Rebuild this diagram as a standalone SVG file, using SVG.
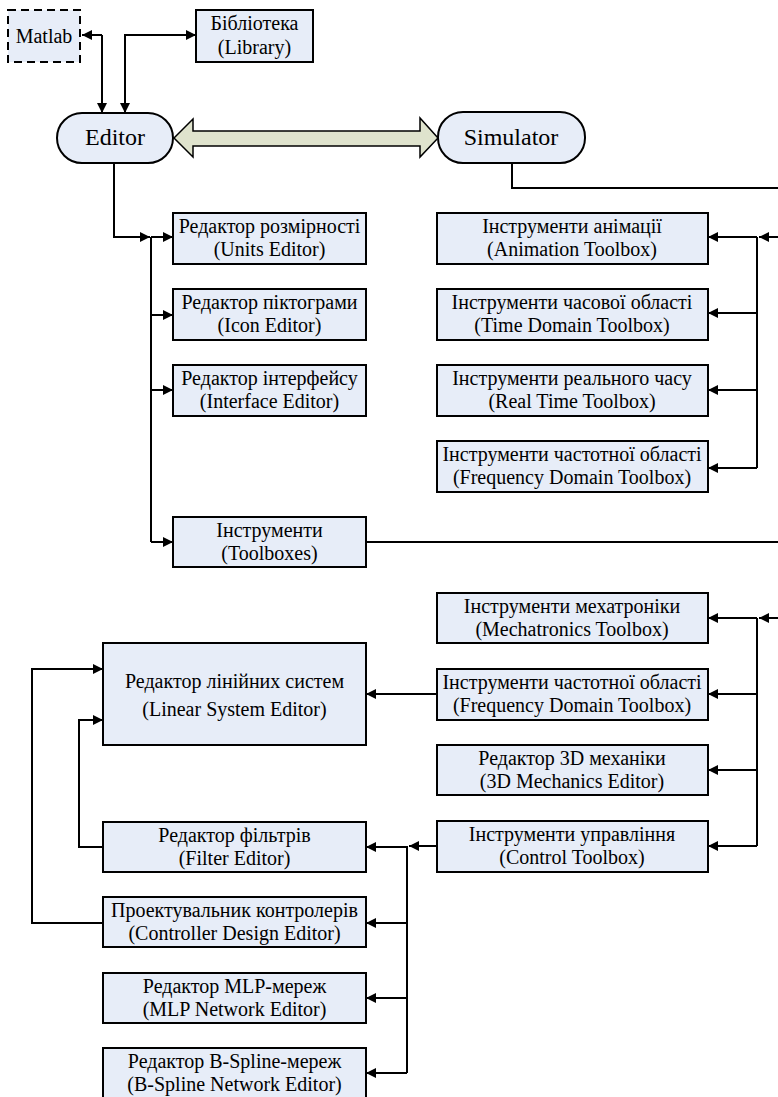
<svg xmlns="http://www.w3.org/2000/svg" width="778" height="1097" viewBox="0 0 778 1097">
<defs>
<marker id="ah" viewBox="0 0 10 10" refX="10" refY="5" markerWidth="10" markerHeight="10" markerUnits="userSpaceOnUse" orient="auto-start-reverse"><path d="M0,0 L10,5 L0,10 z" fill="#000"/></marker>
</defs>
<style>
.box{fill:#e7edf8;stroke:#000;stroke-width:2}
text{font-family:'Liberation Serif','DejaVu Serif',serif;font-size:20px;text-anchor:middle;fill:#000}
.big{font-size:24px}
.c{fill:none;stroke:#000;stroke-width:2}
.a{fill:none;stroke:#000;stroke-width:2;marker-end:url(#ah)}
</style>
<g id="connectors">
<path class="c" d="M102,35 H82" marker-end="url(#ah)"/>
<path class="a" d="M102,35 V113"/>
<path class="a" d="M125,113 V35 H196" marker-start="url(#ah)"/>
<polygon points="174,138 193,119 193,131 420,131 420,118 438,138 420,157 420,146 193,146 193,157" fill="#dfe3cd" stroke="#000" stroke-width="1.5"/>
<path class="c" d="M512,163 V188 H778"/>
<path class="a" d="M114,163 V237 H150"/>
<path class="c" d="M151,237 V542"/>
<path class="a" d="M151,237 H173"/>
<path class="a" d="M151,315 H173"/>
<path class="a" d="M151,390 H173"/>
<path class="a" d="M151,542 H173"/>
<path class="c" d="M366,542 H778"/>
<path class="a" d="M778,237 H759"/>
<path class="c" d="M757,237 V468"/>
<path class="a" d="M757,237 H708"/>
<path class="a" d="M757,313 H708"/>
<path class="a" d="M757,390 H708"/>
<path class="a" d="M757,468 H708"/>
<path class="a" d="M778,618 H759"/>
<path class="c" d="M757,618 V846"/>
<path class="a" d="M757,618 H708"/>
<path class="a" d="M757,694 H708"/>
<path class="a" d="M757,770 H708"/>
<path class="a" d="M757,846 H708"/>
<path class="a" d="M437,694 H366"/>
<path class="a" d="M437,846 H409"/>
<path class="c" d="M407,846 V1073"/>
<path class="a" d="M407,847 H366"/>
<path class="a" d="M407,923 H366"/>
<path class="a" d="M407,998 H366"/>
<path class="a" d="M407,1073 H366"/>
<path class="a" d="M103,847 H79 V720 H103"/>
<path class="a" d="M103,923 H32 V669 H103"/>
</g>
<g id="matlab"><rect x="8" y="10" width="72" height="52" fill="#e7edf8" stroke="#000" stroke-width="2" stroke-dasharray="8,5"/><text x="44" y="43">Matlab</text></g>
<g id="library"><rect class="box" x="196" y="10" width="117" height="52"/><text x="254.5" y="30">Бібліотека</text><text x="254.5" y="54">(Library)</text></g>
<g id="editor"><rect class="box" x="57" y="113" width="116" height="50" rx="25"/><text class="big" x="115" y="145">Editor</text></g>
<g id="simulator"><rect class="box" x="438" y="112" width="147" height="51" rx="25"/><text class="big" x="511" y="145">Simulator</text></g>
<g id="units"><rect class="box" x="173" y="213" width="193" height="51"/><text x="269.5" y="233">Редактор розмірності</text><text x="269.5" y="256">(Units Editor)</text></g>
<g id="icon"><rect class="box" x="173" y="289" width="193" height="51"/><text x="269.5" y="309">Редактор піктограми</text><text x="269.5" y="332">(Icon Editor)</text></g>
<g id="interface"><rect class="box" x="173" y="365" width="193" height="51"/><text x="269.5" y="385">Редактор інтерфейсу</text><text x="269.5" y="408">(Interface Editor)</text></g>
<g id="toolboxes"><rect class="box" x="173" y="517" width="193" height="50"/><text x="269.5" y="537">Інструменти</text><text x="269.5" y="560">(Toolboxes)</text></g>
<g id="animation"><rect class="box" x="437" y="213" width="271" height="51"/><text x="572" y="233">Інструменти анімації</text><text x="572" y="256">(Animation Toolbox)</text></g>
<g id="timedomain"><rect class="box" x="437" y="289" width="271" height="51"/><text x="572" y="309">Інструменти часової області</text><text x="572" y="332">(Time Domain Toolbox)</text></g>
<g id="realtime"><rect class="box" x="437" y="365" width="271" height="51"/><text x="572" y="385">Інструменти реального часу</text><text x="572" y="408">(Real Time Toolbox)</text></g>
<g id="frequency1"><rect class="box" x="437" y="441" width="271" height="51"/><text x="572" y="461">Інструменти частотної області</text><text x="572" y="484">(Frequency Domain Toolbox)</text></g>
<g id="mechatronics"><rect class="box" x="437" y="593" width="271" height="50"/><text x="572" y="613">Інструменти мехатроніки</text><text x="572" y="636">(Mechatronics Toolbox)</text></g>
<g id="frequency2"><rect class="box" x="437" y="669" width="271" height="51"/><text x="572" y="689">Інструменти частотної області</text><text x="572" y="712">(Frequency Domain Toolbox)</text></g>
<g id="mechanics3d"><rect class="box" x="437" y="745" width="271" height="50"/><text x="572" y="765">Редактор 3D механіки</text><text x="572" y="788">(3D Mechanics Editor)</text></g>
<g id="control"><rect class="box" x="437" y="821" width="271" height="51"/><text x="572" y="841">Інструменти управління</text><text x="572" y="864">(Control Toolbox)</text></g>
<g id="linear"><rect class="box" x="103" y="643" width="263" height="102"/><text x="234.5" y="688">Редактор лінійних систем</text><text x="234.5" y="716">(Linear System Editor)</text></g>
<g id="filter"><rect class="box" x="103" y="822" width="263" height="50"/><text x="234.5" y="842">Редактор фільтрів</text><text x="234.5" y="865">(Filter Editor)</text></g>
<g id="controller"><rect class="box" x="103" y="897" width="263" height="50"/><text x="234.5" y="917">Проектувальник контролерів</text><text x="234.5" y="940">(Controller Design Editor)</text></g>
<g id="mlp"><rect class="box" x="103" y="973" width="263" height="50"/><text x="234.5" y="993">Редактор MLP-мереж</text><text x="234.5" y="1016">(MLP Network Editor)</text></g>
<g id="bspline"><rect class="box" x="103" y="1048" width="263" height="50"/><text x="234.5" y="1068">Редактор B-Spline-мереж</text><text x="234.5" y="1091">(B-Spline Network Editor)</text></g>
</svg>
